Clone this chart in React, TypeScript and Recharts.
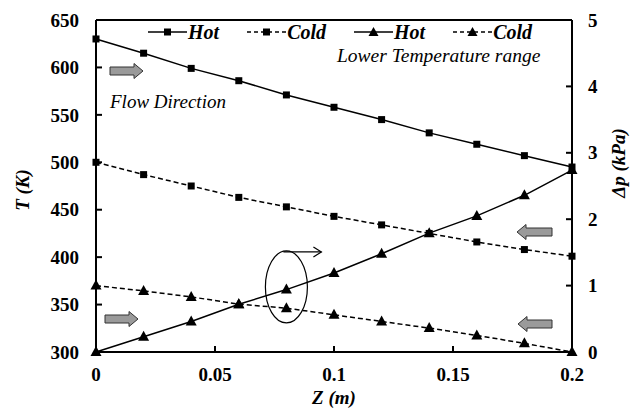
import { ComposedChart, Line, XAxis, YAxis, ReferenceLine, ReferenceDot, Legend, Customized } from 'recharts'

const zPos = [0, 0.02, 0.04, 0.06, 0.08, 0.1, 0.12, 0.14, 0.16, 0.18, 0.2]
const hotT = [630, 615, 599, 586, 571, 558, 545, 531, 519, 507, 495]
const coldT = [500, 487, 475, 463, 453, 443, 434, 425, 416, 408, 401]
const hotDp = [0, 0.23, 0.46, 0.72, 0.94, 1.19, 1.48, 1.79, 2.05, 2.36, 2.74]
const coldDp = [1.0, 0.92, 0.83, 0.72, 0.66, 0.56, 0.46, 0.36, 0.25, 0.13, 0]

const xTicks = [0, 0.05, 0.1, 0.15, 0.2]
const tTicks = [300, 350, 400, 450, 500, 550, 600, 650]
const dpTicks = [0, 1, 2, 3, 4, 5]

const seriesOrder = ['hotT', 'coldT', 'hotDp', 'coldDp']

const rows = zPos.map((z, i) => ({
  z,
  hotT: hotT[i],
  coldT: coldT[i],
  hotDp: hotDp[i],
  coldDp: coldDp[i],
}))

const FONT = '"Liberation Serif", serif'
const DASH = '5 3'

const axisLine = { stroke: '#000', strokeWidth: 2 }
const tickLine = { stroke: '#000', strokeWidth: 2 }

// tick text drawn by hand so the serif bold face is sure to apply
// eslint-disable-next-line @typescript-eslint/no-explicit-any
const makeTick = (dy: string) => (props: any) => {
  const { x, y, payload, textAnchor } = props
  return (
    <text
      x={x}
      y={y}
      dy={dy}
      textAnchor={textAnchor}
      fontFamily={FONT}
      fontWeight="bold"
      fontSize={19}
      fill="#000"
    >
      {payload.value}
    </text>
  )
}
const xTick = makeTick('0.71em')
const yTick = makeTick('0.35em')

// eslint-disable-next-line @typescript-eslint/no-explicit-any
const Square = (props: any) => {
  const { cx, cy, index } = props
  if (cx == null || cy == null) return null
  return <rect key={`s${index}`} x={cx - 3.5} y={cy - 3.5} width={7} height={7} fill="#000" />
}

// eslint-disable-next-line @typescript-eslint/no-explicit-any
const Triangle = (props: any) => {
  const { cx, cy, index } = props
  if (cx == null || cy == null) return null
  return (
    <polygon
      key={`t${index}`}
      points={`${cx},${cy - 6} ${cx + 5.5},${cy + 4} ${cx - 5.5},${cy + 4}`}
      fill="#000"
    />
  )
}

const legendLook: Record<string, { marker: 'square' | 'triangle'; dash?: string }> = {
  hotT: { marker: 'square' },
  coldT: { marker: 'square', dash: '4 3' },
  hotDp: { marker: 'triangle' },
  coldDp: { marker: 'triangle', dash: '4 3' },
}

// eslint-disable-next-line @typescript-eslint/no-explicit-any
const LegendContent = ({ payload }: any) => {
  // eslint-disable-next-line @typescript-eslint/no-explicit-any
  const items = [...(payload || [])].sort((a: any, b: any) => seriesOrder.indexOf(a.dataKey) - seriesOrder.indexOf(b.dataKey))
  return (
    <div style={{ display: 'flex', alignItems: 'center' }}>
      {/* eslint-disable-next-line @typescript-eslint/no-explicit-any */}
      {items.map((entry: any) => {
        const look = legendLook[entry.dataKey]
        return (
          <div key={entry.dataKey} style={{ display: 'flex', alignItems: 'center', marginRight: 28 }}>
            <svg width={39} height={14}>
              <line x1={0} y1={7} x2={39} y2={7} stroke="#000" strokeWidth={1.5} strokeDasharray={look.dash} />
              {look.marker === 'square' ? (
                <rect x={16} y={3.5} width={7} height={7} fill="#000" />
              ) : (
                <polygon points="19.5,2 24.5,11 14.5,11" fill="#000" />
              )}
            </svg>
            <span
              style={{
                marginLeft: 1,
                fontFamily: FONT,
                fontStyle: 'italic',
                fontWeight: 'bold',
                fontSize: 20,
                lineHeight: '20px',
                color: '#000',
              }}
            >
              {entry.value}
            </span>
          </div>
        )
      })}
    </div>
  )
}

const blockArrow = (x0: number, x1: number, y: number, dir: 'right' | 'left') => {
  const head = 9
  let pts: number[][]
  if (dir === 'right') {
    pts = [[x0, y - 4], [x1 - head, y - 4], [x1 - head, y - 7.5], [x1, y], [x1 - head, y + 7.5], [x1 - head, y + 4], [x0, y + 4]]
  } else {
    pts = [[x1, y - 4], [x0 + head, y - 4], [x0 + head, y - 7.5], [x0, y], [x0 + head, y + 7.5], [x0 + head, y + 4], [x1, y + 4]]
  }
  return <polygon points={pts.map((p) => p.join(',')).join(' ')} fill="#9a9a9a" stroke="#333" strokeWidth={1} />
}

const Annotations = () => (
  <g>
    {blockArrow(110, 143, 71, 'right')}
    {blockArrow(105, 138, 319, 'right')}
    {blockArrow(517, 552, 232, 'left')}
    {blockArrow(518, 552, 324, 'left')}
    <text x={110} y={108} fontFamily={FONT} fontStyle="italic" fontSize={19} fill="#000">
      Flow Direction
    </text>
    <text x={337} y={62} fontFamily={FONT} fontStyle="italic" fontSize={19.5} fill="#000">
      Lower Temperature range
    </text>
    <text
      x={22}
      y={190}
      transform="rotate(-90 22 190)"
      textAnchor="middle"
      dominantBaseline="central"
      fontFamily={FONT}
      fontStyle="italic"
      fontWeight="bold"
      fontSize={19}
      fill="#000"
    >
      T (K)
    </text>
    <text
      x={618}
      y={163}
      transform="rotate(-90 618 163)"
      textAnchor="middle"
      dominantBaseline="central"
      fontFamily={FONT}
      fontStyle="italic"
      fontWeight="bold"
      fontSize={19}
      fill="#000"
    >
      Δp (kPa)
    </text>
    <text x={334} y={404} textAnchor="middle" fontFamily={FONT} fontStyle="italic" fontWeight="bold" fontSize={19} fill="#000">
      Z (m)
    </text>
  </g>
)

// eslint-disable-next-line @typescript-eslint/no-explicit-any
const Ellipse = (props: any) => {
  const { cx, cy } = props
  if (cx == null || cy == null) return null
  const top = cy - 35
  return (
    <g>
      <ellipse cx={cx} cy={cy} rx={21} ry={36} fill="none" stroke="#000" strokeWidth={1.2} />
      <line x1={cx - 3} y1={top} x2={cx + 35} y2={top} stroke="#000" strokeWidth={1.2} />
      <polyline points={`${cx + 27},${top - 5} ${cx + 35},${top} ${cx + 27},${top + 5}`} fill="none" stroke="#000" strokeWidth={1.2} />
    </g>
  )
}

export default function App() {
  return (
    <div style={{ width: 630, height: 410, background: '#fff' }}>
      <style>{'body{margin:0}'}</style>
      <ComposedChart width={630} height={410} data={rows} margin={{ top: 20, right: 18, left: 36, bottom: 18 }}>
        <XAxis
          dataKey="z"
          type="number"
          domain={[0, 0.2]}
          ticks={xTicks}
          height={40}
          tick={xTick}
          axisLine={axisLine}
          tickLine={tickLine}
          tickSize={-6}
          tickMargin={22}
          interval={0}
        />
        <YAxis
          yAxisId="left"
          domain={[300, 650]}
          ticks={tTicks}
          width={60}
          tick={yTick}
          axisLine={axisLine}
          tickLine={tickLine}
          tickSize={-6}
          tickMargin={23}
          interval={0}
        />
        <YAxis
          yAxisId="right"
          orientation="right"
          domain={[0, 5]}
          ticks={dpTicks}
          width={40}
          tick={yTick}
          axisLine={axisLine}
          tickLine={tickLine}
          tickSize={-6}
          tickMargin={22}
          interval={0}
        />
        <ReferenceLine yAxisId="left" y={650} stroke="#000" strokeWidth={2} />
        <Line yAxisId="left" dataKey="hotT" name="Hot" stroke="#000" strokeWidth={1.5} dot={Square} activeDot={false} isAnimationActive={false} />
        <Line yAxisId="left" dataKey="coldT" name="Cold" stroke="#000" strokeWidth={1.5} strokeDasharray={DASH} dot={Square} activeDot={false} isAnimationActive={false} />
        <Line yAxisId="right" dataKey="hotDp" name="Hot" stroke="#000" strokeWidth={1.5} dot={Triangle} activeDot={false} isAnimationActive={false} />
        <Line yAxisId="right" dataKey="coldDp" name="Cold" stroke="#000" strokeWidth={1.5} strokeDasharray={DASH} dot={Triangle} activeDot={false} isAnimationActive={false} />
        <ReferenceDot yAxisId="right" x={0.08} y={0.98} shape={Ellipse} />
        <Customized component={Annotations} />
        <Legend
          layout="horizontal"
          verticalAlign="middle"
          align="center"
          content={LegendContent}
          wrapperStyle={{ top: 22, left: 148, width: 440 }}
        />
      </ComposedChart>
    </div>
  )
}
